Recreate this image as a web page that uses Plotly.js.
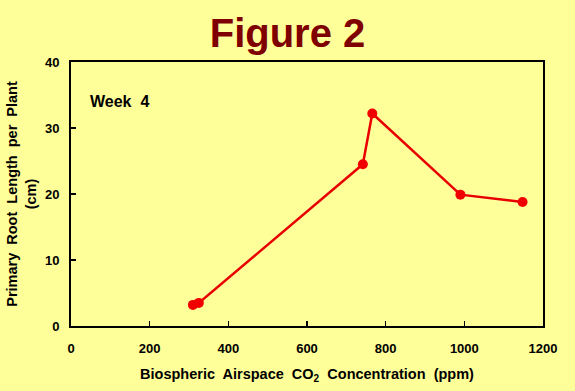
<!DOCTYPE html>
<html>
<head>
<meta charset="utf-8">
<script src="https://cdn.plot.ly/plotly-3.0.1.min.js"></script>
<style>html,body{margin:0;padding:0;background:#FFFF99;}#chart{width:575px;height:391px;}</style>
</head>
<body>
<div id="chart"></div>
<script>
var co2 = [310, 325, 742, 766, 990, 1148];
var rootLength = [3.2, 3.5, 24.5, 32.2, 19.9, 18.8];
var xTicks = [0, 200, 400, 600, 800, 1000, 1200];
var yTicks = [0, 10, 20, 30, 40];

var trace = {
  x: co2, y: rootLength, type: 'scatter', mode: 'lines+markers',
  line: {color: '#E80000', width: 2.5},
  marker: {color: '#F00000', size: 10},
  hoverinfo: 'none'
};
var bold = {family: 'Arial, Liberation Sans, sans-serif', size: 14.5, color: '#000'};
var layout = {
  width: 575, height: 391,
  paper_bgcolor: '#FFFF99', plot_bgcolor: '#FFFF99',
  margin: {l: 71, r: 32, t: 62, b: 65},
  showlegend: false,
  title: {text: '<b>Figure 2</b>', font: {family: 'Arial, Liberation Sans, sans-serif', size: 40, color: '#7F0000'}, x: 0.5, xanchor: 'center', y: 0.915, yanchor: 'middle'},
  xaxis: {
    range: [0, 1200], tickvals: xTicks, ticktext: xTicks.map(function(v){return '<b>'+v+'</b>';}),
    ticks: 'inside', ticklen: 5, tickwidth: 1.5, tickcolor: '#000',
    showline: true, linecolor: '#000', linewidth: 2, mirror: true, showgrid: false, zeroline: false,
    tickfont: {family: 'Arial, Liberation Sans, sans-serif', size: 13, color: '#000'},
    ticklabelstandoff: 9,
    title: {text: '<b>Biospheric\u00A0 Airspace\u00A0 CO<sub>2</sub>\u00A0 Concentration\u00A0 (ppm)</b>', font: bold, standoff: 14}
  },
  yaxis: {
    range: [0, 40], tickvals: yTicks, ticktext: yTicks.map(function(v){return '<b>'+v+'</b>';}),
    ticks: 'inside', ticklen: 5, tickwidth: 1.5, tickcolor: '#000',
    showline: true, linecolor: '#000', linewidth: 2, mirror: true, showgrid: false, zeroline: false,
    tickfont: {family: 'Arial, Liberation Sans, sans-serif', size: 13, color: '#000'},
    ticklabelstandoff: 7,
    title: {text: '<b>Primary\u00A0 Root\u00A0 Length\u00A0 per\u00A0 Plant<br>(cm)</b>', font: bold, standoff: 5}
  },
  annotations: [{
    text: '<b>Week\u00A0 4</b>', xref: 'paper', yref: 'paper', x: 0.035, y: 0.85, xanchor: 'left', yanchor: 'middle',
    showarrow: false, font: {family: 'Arial, Liberation Sans, sans-serif', size: 16, color: '#000'}
  }]
};
Plotly.newPlot('chart', [trace], layout, {displayModeBar: false, staticPlot: true});
</script>
</body>
</html>
